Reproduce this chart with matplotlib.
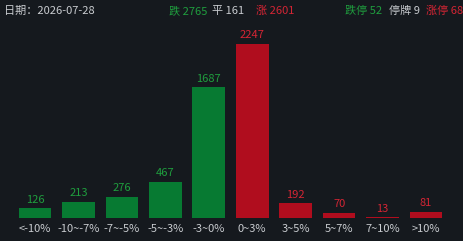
import matplotlib
matplotlib.use("Agg")
import matplotlib.pyplot as plt

categories = ["<-10%", "-10~-7%", "-7~-5%", "-5~-3%", "-3~0%",
              "0~3%", "3~5%", "5~7%", "7~10%", ">10%"]
counts = [126, 213, 276, 467, 1687, 2247, 192, 70, 13, 81]
is_up = [False, False, False, False, False, True, True, True, True, True]

date_text = "2026-07-28"
fall_total, flat_total, rise_total = 2765, 161, 2601
limit_down, suspended, limit_up = 52, 9, 68

plt.rcParams["font.family"] = ["Noto Sans CJK SC", "DejaVu Sans"]

bg = "#15191e"
bar_green, bar_red = "#077a32", "#b00d1e"
txt_green, txt_red = "#1f9e3e", "#d42534"
txt_gray = "#c9ccd0"

fig = plt.figure(figsize=(4.64, 2.41), dpi=100, facecolor=bg)
ax = fig.add_axes([0, 0.0954, 1, 0.78])
ax.set_facecolor(bg)

x = list(range(len(categories)))
colors = [bar_red if up else bar_green for up in is_up]
ax.bar(x, counts, width=0.75, color=colors)
for xi, v, up in zip(x, counts, is_up):
    ax.annotate(str(v), (xi, v), xytext=(0, 2.5), textcoords="offset points",
                ha="center", va="bottom", fontsize=8,
                color=txt_red if up else txt_green)

ax.set_xlim(-0.806, 9.875)
ax.set_ylim(0, 2427)
ax.set_xticks(x)
ax.set_xticklabels(categories, fontsize=8, color=txt_gray)
ax.tick_params(axis="x", length=0, pad=4.5)
ax.set_yticks([])
for s in ax.spines.values():
    s.set_visible(False)

# header line
ty = 1 - 11 / 241
fs = 8
fig.text(4 / 464, ty, "日期：" + date_text, fontsize=fs, color=txt_gray, va="center")
fig.text(169 / 464, ty, f"跌 {fall_total}", fontsize=fs, color=txt_green, va="center")
fig.text(212 / 464, ty, f"平 {flat_total}", fontsize=fs, color=txt_gray, va="center")
fig.text(256 / 464, ty, f"涨 {rise_total}", fontsize=fs, color=txt_red, va="center")
fig.text(345 / 464, ty, f"跌停 {limit_down}", fontsize=fs, color=txt_green, va="center")
fig.text(389 / 464, ty, f"停牌 {suspended}", fontsize=fs, color=txt_gray, va="center")
fig.text(426 / 464, ty, f"涨停 {limit_up}", fontsize=fs, color=txt_red, va="center")

fig.savefig("out.png", dpi=100, facecolor=bg)
